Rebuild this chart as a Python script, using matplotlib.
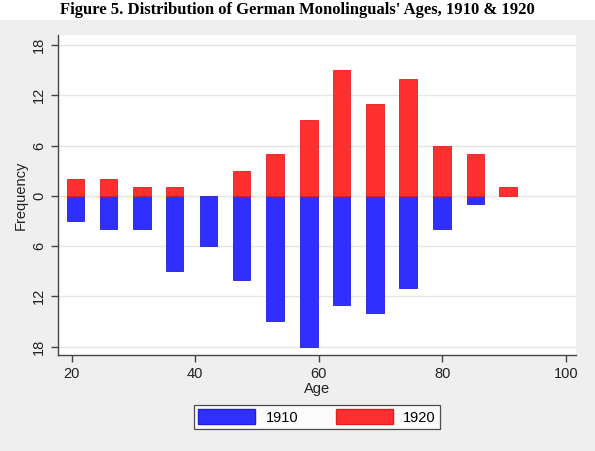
import numpy as np
import matplotlib.pyplot as plt
from matplotlib.patches import Rectangle, Patch
from matplotlib.ticker import FuncFormatter

# bin centres (age) and counts
age = [20.6, 26.0, 31.4, 36.7, 42.1, 47.5, 52.9, 58.4, 63.7, 69.1, 74.4, 79.9, 85.3, 90.6]
n1910 = [3, 4, 4, 9, 6, 10, 15, 18, 13, 14, 11, 4, 1, 0]
n1920 = [2, 2, 1, 1, 0, 3, 5, 9, 15, 11, 14, 6, 5, 1]
yticks = [-18, -12, -6, 0, 6, 12, 18]
xticks = [20, 40, 60, 80, 100]

blue = '#2f2fff'
red = '#ff2f2f'
bg = '#efefef'

plt.rcParams['font.family'] = ['Liberation Sans', 'DejaVu Sans']

fig = plt.figure(figsize=(5.95, 4.51), dpi=100, facecolor='white')
fig.patches.append(Rectangle((0, 0), 1, 1 - 20/451, transform=fig.transFigure,
                             facecolor=bg, edgecolor='none', zorder=-10))
fig.text(0.5, 1 - 2/451, "Figure 5. Distribution of German Monolinguals' Ages, 1910 & 1920",
         ha='center', va='top', fontsize=12, fontweight='bold',
         family='Liberation Serif')

ax = fig.add_axes([58/595, 1 - 355/451, (576 - 58)/595, (355 - 35)/451])
ax.set_facecolor('white')

w = 2.8
ax.bar(age, [-v for v in n1910], width=w, color=blue, edgecolor='#2020d0',
       linewidth=[0.6 if v else 0 for v in n1910], zorder=3)
ax.bar(age, n1920, width=w, color=red, edgecolor='#e02020',
       linewidth=[0.6 if v else 0 for v in n1920], zorder=3)

ax.set_xlim(17.8, 101.6)
ax.set_ylim(-19.0, 19.2)
ax.set_yticks(yticks)
ax.yaxis.set_major_formatter(FuncFormatter(lambda v, p: '%d' % abs(v)))
ax.set_xticks(xticks)
ax.grid(axis='y', color='#e6e6e6', linewidth=1.0, zorder=0)

for s in ['top', 'right']:
    ax.spines[s].set_visible(False)
for s in ['left', 'bottom']:
    ax.spines[s].set_color('#444444')
    ax.spines[s].set_linewidth(1.0)

ax.tick_params(axis='both', colors='#444444', labelcolor='#222222', labelsize=10.5,
               length=5, width=1.0)
ax.tick_params(axis='x', pad=4)
for lab in ax.get_yticklabels():
    lab.set_rotation(90)
    lab.set_va('center')

ax.set_xlabel('Age', fontsize=10.5, color='#222222', labelpad=0)
ax.set_ylabel('Frequency', fontsize=10.5, color='#222222', labelpad=3)

handles = [Patch(facecolor=blue, edgecolor='#2020d0', label='1910'),
           Patch(facecolor=red, edgecolor='#e02020', label='1920')]
leg = fig.legend(handles=handles, loc='center', bbox_to_anchor=(317/595, 1 - 417/451),
                 ncol=2, fontsize=10.5, frameon=True, fancybox=False,
                 handlelength=3.9, handleheight=1.2, columnspacing=2.6,
                 handletextpad=0.7, borderpad=0.3, borderaxespad=0)
leg.get_frame().set_edgecolor('#222222')
leg.get_frame().set_linewidth(0.9)

fig.savefig('out.png', dpi=100, facecolor=fig.get_facecolor())
